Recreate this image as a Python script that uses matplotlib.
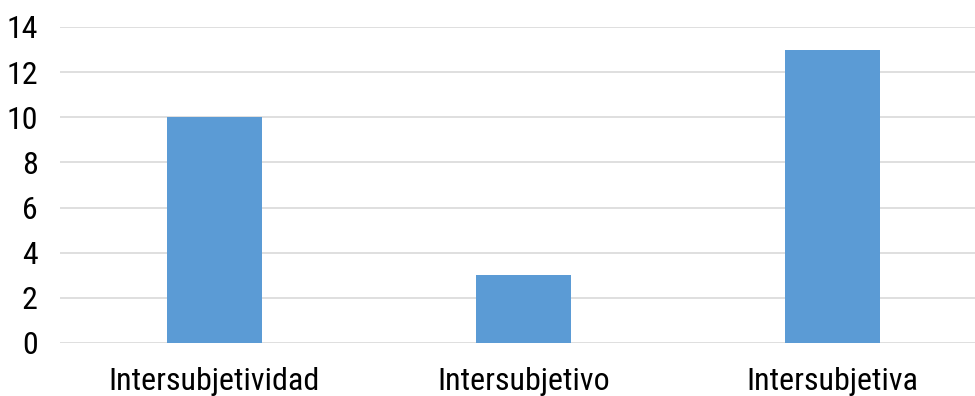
import matplotlib
matplotlib.use("Agg")
import matplotlib.pyplot as plt
from matplotlib import font_manager

categories = ["Intersubjetividad", "Intersubjetivo", "Intersubjetiva"]
values = [10, 3, 13]
yticks = [0, 2, 4, 6, 8, 10, 12, 14]

# Prefer a narrow Arial-like face if one is installed
narrow = None
for key in ["LiberationSansNarrow-Regular", "ArialNarrow", "RobotoCondensed-Regular",
            "OpenSans_Condensed-Regular", "OpenSansCondensed"]:
    for f in font_manager.fontManager.ttflist:
        if key.lower() in f.fname.lower().replace(" ", ""):
            narrow = f.fname
            break
    if narrow:
        break

if narrow:
    fp = font_manager.FontProperties(fname=narrow, size=23)
else:
    fp = font_manager.FontProperties(family=["Liberation Sans", "DejaVu Sans"], size=21.5)

fig = plt.figure(figsize=(9.75, 3.96), dpi=100)
ax = fig.add_axes([60 / 975, 53 / 396, 927 / 975, 316 / 396])

x = list(range(len(categories)))
ax.bar(x, values, width=0.31, color="#5B9BD5", zorder=3)
ax.set_xlim(-0.5, 2.5)
ax.set_ylim(0, 14)
ax.set_yticks(yticks)
ax.set_yticklabels([str(v) for v in yticks], fontproperties=fp)
ax.set_xticks(x)
ax.set_xticklabels(categories, fontproperties=fp)
ax.grid(axis="y", color="#D9D9D9", linewidth=1.2, zorder=0)
for s in ax.spines.values():
    s.set_visible(False)
ax.tick_params(axis="both", length=0, colors="black")
ax.tick_params(axis="y", pad=16)
ax.tick_params(axis="x", pad=17)

fig.savefig("out.png", dpi=100)
